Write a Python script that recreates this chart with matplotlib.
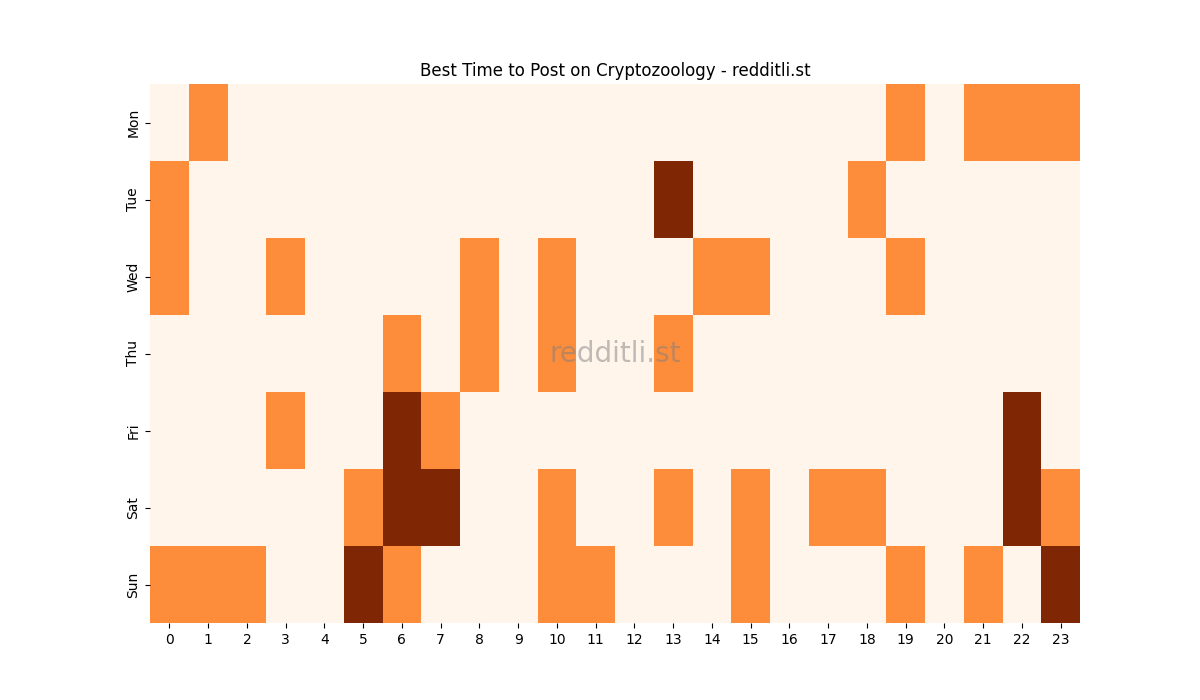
import matplotlib
matplotlib.use("Agg")
import matplotlib.pyplot as plt
import seaborn as sns
import numpy as np

days = ["Mon", "Tue", "Wed", "Thu", "Fri", "Sat", "Sun"]
hours = list(range(24))

# activity level per hour (0 = low, 1 = medium, 2 = high)
mon = [0, 1, 0, 0, 0, 0, 0, 0, 0, 0, 0, 0, 0, 0, 0, 0, 0, 0, 0, 1, 0, 1, 1, 1]
tue = [1, 0, 0, 0, 0, 0, 0, 0, 0, 0, 0, 0, 0, 2, 0, 0, 0, 0, 1, 0, 0, 0, 0, 0]
wed = [1, 0, 0, 1, 0, 0, 0, 0, 1, 0, 1, 0, 0, 0, 1, 1, 0, 0, 0, 1, 0, 0, 0, 0]
thu = [0, 0, 0, 0, 0, 0, 1, 0, 1, 0, 1, 0, 0, 1, 0, 0, 0, 0, 0, 0, 0, 0, 0, 0]
fri = [0, 0, 0, 1, 0, 0, 2, 1, 0, 0, 0, 0, 0, 0, 0, 0, 0, 0, 0, 0, 0, 0, 2, 0]
sat = [0, 0, 0, 0, 0, 1, 2, 2, 0, 0, 1, 0, 0, 1, 0, 1, 0, 1, 1, 0, 0, 0, 2, 1]
sun = [1, 1, 1, 0, 0, 2, 1, 0, 0, 0, 1, 1, 0, 0, 0, 1, 0, 0, 0, 1, 0, 1, 0, 2]

grid = np.array([mon, tue, wed, thu, fri, sat, sun])

fig = plt.figure(figsize=(12, 7), dpi=100)
ax = plt.gca()
sns.heatmap(grid, cmap="Oranges", cbar=False, ax=ax,
            xticklabels=hours, yticklabels=days)

ax.set_title("Best Time to Post on Cryptozoology - redditli.st")
ax.text(0.5, 0.5, "redditli.st", transform=ax.transAxes,
        ha="center", va="center", fontsize=20, color="gray", alpha=0.5)

plt.savefig("out.png")
